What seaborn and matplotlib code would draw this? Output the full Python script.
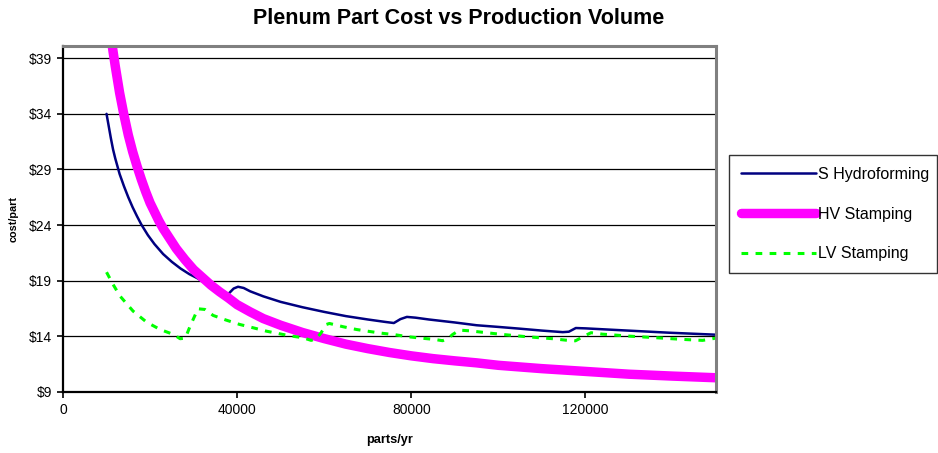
import matplotlib
matplotlib.use("Agg")
import matplotlib.pyplot as plt
import seaborn as sns
import pandas as pd

# ---- data ----
hydro_x = [10000, 10500, 11000, 11500, 12000, 13000, 14000, 15000, 16000, 17000,
           18000, 19500, 21000, 23000, 25000, 27000, 29000, 31000, 33000, 35000,
           37000, 38000, 39200, 40200, 41500, 43000, 46000, 50000, 55000, 60000,
           65000, 70000, 74000, 76000, 77500, 79000, 81000, 84000, 90000, 95000,
           100000, 105000, 110000, 114800, 116200, 117800, 120000, 127800, 139200, 150000]
hydro_y = [34.0, 32.9, 31.8, 30.8, 30.0, 28.6, 27.5, 26.5, 25.6, 24.8,
           24.05, 23.1, 22.3, 21.4, 20.7, 20.1, 19.6, 19.2, 18.7, 18.3,
           17.95, 17.82, 18.3, 18.46, 18.35, 18.05, 17.6, 17.1, 16.62, 16.2,
           15.82, 15.52, 15.3, 15.2, 15.55, 15.75, 15.68, 15.52, 15.25, 15.0,
           14.85, 14.69, 14.52, 14.38, 14.42, 14.75, 14.72, 14.56, 14.33, 14.15]

hv_x = [10000, 10500, 11000, 11500, 12000, 13000, 14000, 15000, 16000, 17000,
        18000, 19000, 20000, 21000, 22000, 23000, 24000, 26000, 28000, 30000,
        32000, 34000, 36000, 38000, 40000, 43000, 46000, 50000, 55000, 60000,
        65000, 70000, 75000, 80000, 85000, 90000, 95000, 100000, 110000, 120000,
        130000, 140000, 150000]
hv_y = [44.3, 42.5, 41.0, 39.6, 38.3, 35.9, 33.9, 32.1, 30.6, 29.3,
        28.1, 27.0, 26.0, 25.2, 24.4, 23.7, 23.1, 21.9, 20.9, 20.0,
        19.3, 18.6, 18.0, 17.45, 16.85, 16.2, 15.6, 15.0, 14.35, 13.8,
        13.3, 12.9, 12.55, 12.25, 12.0, 11.8, 11.62, 11.4, 11.1, 10.85,
        10.6, 10.43, 10.28]

lv_x = [10000, 11500, 13100, 16100, 19200, 22300, 25400, 26900, 28100, 29200,
        31000, 32600, 34500, 37500, 40600, 43700, 46700, 52100, 55100, 57000,
        58200, 59300, 60500, 61200, 64300, 67400, 70400, 73500, 76200, 79200,
        82300, 85300, 87200, 88400, 89500, 91100, 93400, 100200, 106400, 112500,
        115500, 117700, 119700, 121300, 123900, 130100, 136200, 142300, 146900,
        148500, 150000]
lv_y = [19.77, 18.67, 17.62, 16.27, 15.28, 14.62, 14.17, 13.79, 13.84, 14.92,
        16.48, 16.42, 15.88, 15.46, 15.07, 14.77, 14.47, 14.05, 13.88, 13.64,
        13.79, 14.33, 15.07, 15.16, 14.87, 14.62, 14.44, 14.27, 14.15, 13.97,
        13.84, 13.73, 13.61, 13.79, 14.17, 14.56, 14.5, 14.2, 13.97, 13.79,
        13.66, 13.6, 14.02, 14.33, 14.2, 14.02, 13.88, 13.73, 13.64,
        13.73, 13.85]

series_names = ["S Hydroforming", "HV Stamping", "LV Stamping"]
y_ticks = [9, 14, 19, 24, 29, 34, 39]
y_tick_labels = ["$9", "$14", "$19", "$24", "$29", "$34", "$39"]
x_ticks = [0, 40000, 80000, 120000]
x_tick_labels = ["0", "40000", "80000", "120000"]

sns.set_style("white")
plt.rcParams["font.family"] = ["Liberation Sans", "DejaVu Sans"]
plt.rcParams["text.color"] = "black"
plt.rcParams["axes.labelcolor"] = "black"
plt.rcParams["xtick.color"] = "black"
plt.rcParams["ytick.color"] = "black"

fig = plt.figure(figsize=(9.38, 4.53), dpi=100)
ax = fig.add_axes([63 / 938, (453 - 392) / 453, (716 - 63) / 938, (392 - 46) / 453])

df_h = pd.DataFrame({"x": hydro_x, "y": hydro_y})
df_hv = pd.DataFrame({"x": hv_x, "y": hv_y})
df_lv = pd.DataFrame({"x": lv_x, "y": lv_y})

sns.lineplot(data=df_h, x="x", y="y", ax=ax, color="#000080", lw=1.8,
             sort=False, estimator=None, label=series_names[0])
sns.lineplot(data=df_hv, x="x", y="y", ax=ax, color="#FF00FF", lw=6.8,
             sort=False, estimator=None, label=series_names[1],
             solid_capstyle="round", solid_joinstyle="round")
sns.lineplot(data=df_lv, x="x", y="y", ax=ax, color="#00FF00", lw=2.2,
             sort=False, estimator=None, label=series_names[2])
ax.lines[-1].set_dashes((2.2, 2.4))

ax.set_xlim(0, 150000)
ax.set_ylim(9, 40.1)
ax.set_yticks(y_ticks)
ax.set_yticklabels(y_tick_labels, fontsize=10, color="black")
ax.set_xticks(x_ticks)
ax.set_xticklabels(x_tick_labels, fontsize=10, color="black")
ax.yaxis.grid(True, color="black", lw=0.9)
ax.set_axisbelow(True)
ax.tick_params(axis="both", direction="out", length=4, width=1.2, color="black",
               labelcolor="black", left=True, bottom=True, pad=4)

for s in ["left", "bottom"]:
    ax.spines[s].set_color("black")
    ax.spines[s].set_linewidth(1.6)
for s in ["top", "right"]:
    ax.spines[s].set_color("#808080")
    ax.spines[s].set_linewidth(2.2)

ax.set_xlabel("parts/yr", fontsize=9.2, fontweight="bold", labelpad=12, color="black")
ax.set_ylabel("cost/part", fontsize=7.8, fontweight="bold", color="black")
ax.yaxis.set_label_coords(-0.0674, 0.5)

fig.suptitle("Plenum Part Cost vs Production Volume", fontsize=15.5,
             fontweight="bold", x=459 / 938, y=1 - 18 / 453, va="center",
             color="black")

ax.get_legend().remove()
handles, labels = ax.get_legend_handles_labels()
leg = fig.legend(handles, labels, loc="center",
                 bbox_to_anchor=(729 / 938, (453 - 278) / 453, 208 / 938, 128 / 453),
                 mode="expand", fontsize=11.5, frameon=True, fancybox=False,
                 edgecolor="black", handlelength=4.7, handletextpad=0.1,
                 labelspacing=1.55, borderpad=0.75, borderaxespad=0)
leg.get_frame().set_linewidth(1.0)
for t in leg.get_texts():
    t.set_color("black")

fig.savefig("out.png", dpi=100)
